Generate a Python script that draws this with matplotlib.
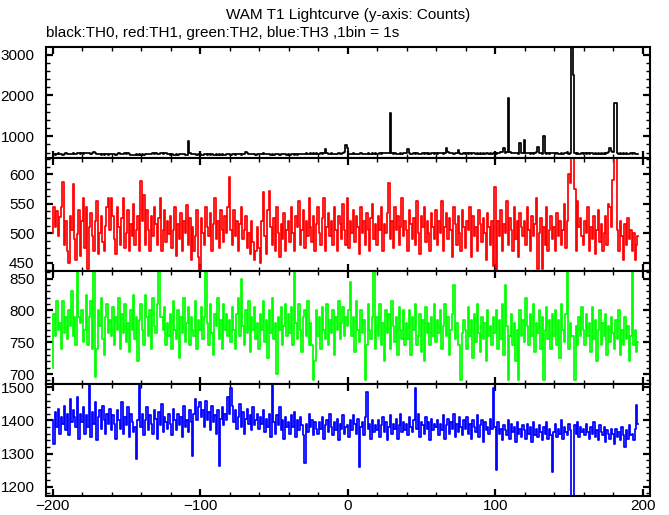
import numpy as np
import matplotlib
matplotlib.use("Agg")
import matplotlib.pyplot as plt
from matplotlib.ticker import MultipleLocator

plt.rcParams['font.family'] = ['Liberation Sans', 'DejaVu Sans']
plt.rcParams['font.size'] = 11

# counts per 1 s bin, first bin at t = -200 s
th0 = [
    560, 575, 552, 568, 580, 558, 571, 549, 566, 583, 560, 572, 555, 578, 590, 566, 571, 584, 596, 575,
    588, 570, 593, 582, 598, 580, 575, 596, 625, 590, 563, 557, 570, 552, 566, 549, 571, 560, 553, 568,
    557, 572, 561, 549, 568, 580, 571, 563, 576, 588, 570, 583, 560, 545, 538, 552, 547, 559, 541, 556,
    549, 562, 553, 570, 558, 566, 575, 561, 579, 570, 585, 568, 576, 590, 583, 571, 596, 588, 572, 560,
    545, 561, 552, 540, 556, 549, 563, 558, 571, 560, 553, 548, 880, 590, 559, 571, 556, 565, 549, 562,
    558, 549, 541, 556, 562, 548, 570, 553, 559, 544, 551, 563, 548, 557, 541, 560, 552, 546, 565, 558,
    563, 551, 570, 557, 549, 566, 575, 560, 553, 578, 568, 620, 585, 571, 558, 566, 574, 561, 549, 563,
    572, 560, 568, 579, 564, 557, 571, 562, 549, 566, 553, 560, 571, 558, 548, 563, 555, 569, 558, 551,
    562, 548, 557, 570, 553, 561, 549, 566, 571, 559, 575, 563, 582, 570, 578, 596, 572, 588, 567, 580,
    575, 562, 583, 571, 590, 681, 598, 572, 565, 581, 569, 576, 558, 571, 580, 563, 577, 590, 612, 786,
    720, 575, 566, 571, 580, 562, 578, 569, 575, 586, 570, 562, 578, 569, 581, 573, 566, 584, 571, 579,
    568, 575, 583, 570, 588, 579, 592, 581, 602, 1575, 596, 571, 585, 577, 562, 570, 581, 566, 579, 590,
    602, 681, 588, 576, 569, 582, 571, 589, 566, 578, 573, 585, 569, 592, 577, 584, 571, 596, 583, 575,
    588, 574, 592, 581, 597, 578, 586, 720, 605, 584, 579, 596, 570, 583, 591, 664, 588, 577, 569, 584,
    578, 592, 571, 586, 569, 580, 595, 574, 588, 566, 582, 571, 590, 563, 579, 585, 568, 591, 574, 583,
    590, 574, 597, 583, 605, 611, 706, 590, 615, 1950, 612, 588, 597, 580, 601, 585, 574, 843, 589, 596,
    909, 602, 579, 588, 570, 583, 566, 591, 622, 745, 598, 583, 577, 1015, 590, 571, 586, 568, 579, 592,
    585, 571, 593, 578, 566, 589, 574, 597, 582, 610, 575, 596, 3250, 2490, 590, 576, 583, 569, 571, 587,
    574, 590, 568, 582, 571, 595, 579, 566, 588, 573, 580, 567, 592, 578, 585, 570, 596, 612, 720, 640,
    610, 1820, 1805, 588, 572, 579, 566, 584, 571, 590, 577, 565, 582, 570, 588, 574, 561, 569,
]

th1 = [
    500, 545, 510, 538, 495, 528, 545, 586, 480, 520, 470, 450, 530, 505, 583, 490, 455, 498, 540, 462,
    520, 560, 475, 545, 440, 510, 535, 495, 470, 520, 555, 465, 500, 530, 485, 470, 512, 545, 560, 505,
    560, 530, 490, 465, 545, 510, 480, 525, 560, 475, 500, 540, 470, 515, 495, 550, 480, 505, 530, 470,
    589, 520, 565, 480, 540, 505, 470, 530, 495, 545, 515, 480, 525, 560, 470, 505, 540, 485, 520, 498,
    530, 475, 505, 545, 462, 515, 490, 535, 470, 520, 500, 548, 480, 525, 455, 510, 470, 495, 540, 460,
    437, 525, 500, 480, 545, 510, 495, 535, 470, 515, 560, 490, 520, 475, 540, 505, 485, 530, 500, 545,
    596, 505, 480, 540, 495, 520, 470, 515, 545, 490, 505, 530, 475, 500, 465, 520, 485, 455, 470, 510,
    475, 450, 520, 570, 495, 465, 540, 572, 510, 480, 525, 470, 545, 500, 460, 515, 490, 535, 470, 505,
    520, 485, 545, 500, 470, 530, 510, 555, 480, 505, 540, 475, 520, 495, 560, 510, 485, 530, 470, 515,
    545, 500, 480, 525, 560, 470, 510, 535, 495, 520, 480, 545, 505, 470, 530, 515, 490, 550, 505, 480,
    560, 475, 520, 500, 540, 485, 530, 510, 465, 545, 500, 520, 480, 535, 505, 470, 525, 550, 490, 515,
    480, 530, 505, 545, 470, 515, 500, 535, 585, 490, 520, 475, 545, 505, 530, 480, 510, 560, 495, 520,
    505, 470, 540, 515, 490, 525, 480, 555, 500, 465, 530, 510, 545, 485, 520, 500, 470, 535, 510, 490,
    540, 480, 520, 500, 555, 470, 510, 535, 490, 525, 505, 460, 545, 515, 480, 530, 500, 470, 540, 510,
    475, 520, 505, 545, 460, 530, 495, 510, 470, 540, 515, 485, 525, 500, 455, 535, 510, 480, 520, 445,
    579, 438, 520, 495, 540, 470, 515, 500, 555, 480, 525, 505, 470, 545, 490, 520, 460, 535, 510, 495,
    520, 480, 545, 505, 470, 530, 495, 515, 560, 440, 500, 525, 439, 510, 480, 545, 470, 505, 530, 490,
    510, 470, 535, 495, 520, 480, 505, 550, 475, 520, 600, 585, 650, 640, 575, 470, 555, 510, 525, 495,
    480, 520, 500, 545, 470, 510, 490, 530, 465, 505, 540, 485, 515, 470, 500, 530, 480, 550, 545, 510,
    590, 650, 640, 505, 470, 520, 495, 455, 515, 480, 525, 490, 505, 470, 500, 455, 480, 495,
]

th2 = [
    710, 795, 760, 815, 770, 780, 740, 815, 765, 790, 755, 800, 775, 830, 760, 790, 745, 860, 790, 780,
    800, 750, 770, 825, 745, 790, 815, 740, 860, 695, 740, 800, 775, 820, 755, 730, 790, 810, 765, 785,
    760, 805, 745, 790, 770, 820, 740, 795, 765, 810, 750, 780, 735, 800, 770, 825, 755, 790, 720, 785,
    810, 770, 745, 825, 790, 760, 800, 740, 820, 775, 765, 810, 862, 790, 790, 770, 805, 745, 780, 760,
    795, 740, 815, 770, 755, 800, 725, 790, 765, 820, 750, 780, 805, 745, 790, 770, 760, 815, 740, 785,
    770, 805, 755, 790, 860, 780, 745, 810, 765, 730, 795, 775, 820, 755, 785, 740, 810, 770, 795, 760,
    785, 750, 805, 770, 740, 795, 820, 760, 850, 775, 745, 800, 765, 815, 735, 790, 770, 805, 755, 780,
    740, 795, 770, 815, 750, 785, 725, 800, 765, 820, 755, 780, 700, 790, 770, 805, 745, 775, 810, 760,
    795, 765, 805, 745, 862, 780, 755, 810, 770, 735, 790, 800, 760, 815, 745, 780, 745, 690, 720, 800,
    760, 790, 740, 805, 770, 755, 810, 745, 785, 765, 800, 730, 790, 770, 815, 755, 780, 805, 760, 790,
    775, 800, 845, 760, 790, 735, 815, 770, 750, 800, 765, 785, 690, 745, 810, 770, 755, 790, 862, 740,
    790, 760, 810, 745, 780, 720, 800, 765, 795, 740, 815, 775, 750, 790, 730, 805, 770, 755, 800, 745,
    780, 755, 800, 730, 790, 770, 810, 745, 760, 795, 735, 785, 720, 805, 765, 780, 745, 790, 760, 810,
    750, 785, 765, 800, 740, 775, 810, 760, 790, 730, 770, 795, 840, 755, 780, 745, 745, 690, 765, 785,
    770, 740, 805, 760, 785, 725, 795, 750, 810, 765, 735, 790, 755, 780, 720, 800, 760, 775, 745, 790,
    765, 800, 740, 785, 755, 810, 730, 840, 775, 690, 760, 795, 745, 780, 720, 770, 690, 800, 760, 785,
    750, 820, 775, 745, 795, 760, 810, 735, 780, 765, 800, 740, 790, 690, 770, 805, 755, 785, 740, 795,
    760, 800, 745, 785, 725, 810, 770, 750, 795, 862, 740, 780, 760, 760, 690, 775, 745, 790, 760, 805,
    770, 745, 795, 760, 780, 735, 805, 755, 785, 720, 770, 800, 745, 780, 760, 795, 730, 775, 750, 790,
    765, 740, 785, 755, 800, 730, 770, 745, 790, 755, 775, 720, 760, 862, 745, 770, 735, 750,
]

th3 = [
    1400, 1330, 1425, 1380, 1435, 1360, 1410, 1390, 1445, 1370, 1420, 1355, 1465, 1395, 1430, 1410, 1380, 1470, 1345, 1420,
    1395, 1440, 1360, 1415, 1380, 1507, 1350, 1425, 1390, 1455, 1340, 1410, 1430, 1375, 1445, 1400, 1360, 1420, 1390, 1435,
    1370, 1415, 1390, 1345, 1430, 1400, 1375, 1455, 1360, 1410, 1385, 1440, 1350, 1420, 1395, 1365, 1380, 1283, 1400, 1507,
    1380, 1420, 1355, 1400, 1440, 1370, 1415, 1390, 1360, 1430, 1405, 1345, 1425, 1385, 1450, 1365, 1410, 1395, 1375, 1420,
    1390, 1355, 1435, 1400, 1370, 1420, 1385, 1410, 1350, 1445, 1380, 1400, 1365, 1430, 1395, 1293, 1420, 1465, 1400, 1440,
    1455, 1410, 1430, 1380, 1460, 1400, 1425, 1370, 1445, 1395, 1415, 1360, 1430, 1262, 1405, 1440, 1385, 1420, 1400, 1470,
    1420, 1497, 1445, 1395, 1430, 1375, 1410, 1450, 1380, 1425, 1360, 1405, 1435, 1390, 1415, 1370, 1440, 1385, 1400, 1420,
    1375, 1410, 1390, 1430, 1365, 1405, 1380, 1420, 1350, 1517, 1395, 1360, 1415, 1385, 1440, 1370, 1400, 1345, 1410, 1380,
    1395, 1360, 1415, 1380, 1425, 1350, 1400, 1370, 1410, 1385, 1355, 1273, 1390, 1365, 1420, 1380, 1400, 1355, 1395, 1375,
    1360, 1395, 1375, 1410, 1345, 1385, 1400, 1365, 1420, 1380, 1355, 1395, 1370, 1405, 1340, 1390, 1375, 1415, 1360, 1380,
    1385, 1350, 1400, 1370, 1415, 1390, 1360, 1405, 1259, 1380, 1395, 1355, 1410, 1485, 1375, 1390, 1345, 1400, 1365, 1385,
    1370, 1400, 1350, 1385, 1410, 1365, 1395, 1340, 1380, 1415, 1360, 1390, 1375, 1405, 1345, 1385, 1420, 1365, 1395, 1370,
    1390, 1355, 1410, 1380, 1365, 1400, 1497, 1375, 1420, 1350, 1395, 1385, 1360, 1410, 1375, 1395, 1340, 1405, 1370, 1390,
    1380, 1400, 1355, 1390, 1370, 1415, 1345, 1385, 1405, 1360, 1395, 1375, 1420, 1350, 1390, 1365, 1410, 1380, 1355, 1400,
    1375, 1410, 1360, 1390, 1345, 1400, 1380, 1365, 1415, 1350, 1385, 1400, 1335, 1395, 1370, 1380, 1360, 1405, 1375, 1497,
    1380, 1249, 1395, 1360, 1375, 1340, 1385, 1370, 1355, 1400, 1345, 1390, 1365, 1380, 1335, 1395, 1360, 1375, 1350, 1385,
    1370, 1345, 1390, 1360, 1380, 1335, 1395, 1355, 1375, 1350, 1385, 1365, 1340, 1380, 1360, 1395, 1345, 1375, 1355, 1245,
    1365, 1390, 1350, 1375, 1360, 1400, 1345, 1380, 1365, 1355, 1390, 1370, 1170, 1170, 1385, 1360, 1395, 1350, 1380, 1365,
    1375, 1355, 1390, 1365, 1345, 1380, 1360, 1395, 1350, 1370, 1340, 1385, 1365, 1355, 1380, 1335, 1370, 1360, 1345, 1375,
    1360, 1330, 1375, 1350, 1365, 1340, 1380, 1355, 1320, 1370, 1345, 1385, 1355, 1360, 1340, 1375, 1446, 1390,
]

series = [th0, th1, th2, th3]
colors = ['black', '#ff0000', '#00ff00', '#0000ff']
ylims = [(461, 3181), (436, 627), (684, 862), (1172, 1509)]
ymajor = [1000, 50, 50, 100]
yminor = [200, 12.5, 10, 20]

fig = plt.figure(figsize=(6.69, 5.15), dpi=100)

# panel edges in pixels (top, bottom)
edges = [(47.3, 158.3), (158.3, 271.0), (271.0, 384.3), (384.3, 496.0)]
left, right = 45.7 / 669, 650.0 / 669

for i in range(4):
    top, bot = edges[i]
    ax = fig.add_axes([left, 1 - bot / 515, right - left, (bot - top) / 515])
    y = np.array(series[i])
    t = np.arange(-200, -200 + len(y))
    ax.step(t, y, where='mid', color=colors[i], lw=1.25)
    ax.set_xlim(-204.7, 205)
    ax.set_ylim(*ylims[i])
    ax.xaxis.set_major_locator(MultipleLocator(100))
    ax.xaxis.set_minor_locator(MultipleLocator(20))
    ax.yaxis.set_major_locator(MultipleLocator(ymajor[i]))
    ax.yaxis.set_minor_locator(MultipleLocator(yminor[i]))
    ax.tick_params(which='both', direction='in', top=True, right=True)
    ax.tick_params(which='major', length=5, width=1.6)
    ax.tick_params(which='minor', length=2.6, width=1.0)
    ax.tick_params(axis='y', pad=8)
    ax.tick_params(axis='x', pad=2.5)
    for s in ax.spines.values():
        s.set_linewidth(1.5)
    if i < 3:
        ax.tick_params(labelbottom=False)

fig.text(347.9 / 669, 1 - 15 / 515, 'WAM T1 Lightcurve (y-axis: Counts)',
         ha='center', va='center')
fig.text(46 / 669, 1 - 33 / 515, 'black:TH0, red:TH1, green:TH2, blue:TH3 ,1bin = 1s',
         ha='left', va='center')

fig.savefig('out.png', dpi=100)
